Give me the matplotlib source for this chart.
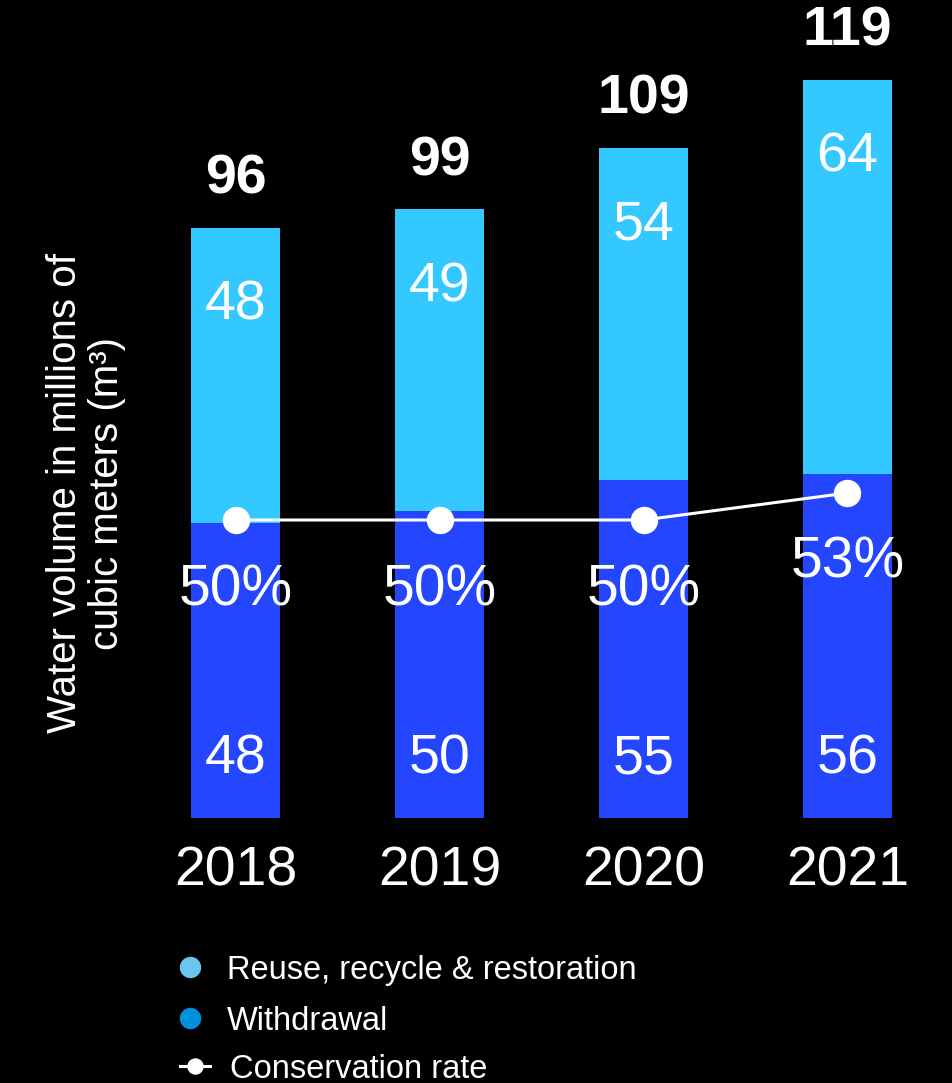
import matplotlib
matplotlib.use("Agg")
import matplotlib.pyplot as plt
from matplotlib.lines import Line2D

plt.rcParams['font.family'] = ['Liberation Sans', 'DejaVu Sans']

years = ["2018", "2019", "2020", "2021"]
withdrawal = [48, 50, 55, 56]
reuse = [48, 49, 54, 64]
totals = [96, 99, 109, 119]
conservation = [50, 50, 50, 53]
legend_labels = ["Reuse, recycle & restoration", "Withdrawal", "Conservation rate"]

C_REUSE = "#33C8FF"
C_WITH = "#2446FF"
C_LEG_REUSE = "#6CC5EC"
C_LEG_WITH = "#0091DC"

W, H = 953, 1083
fig = plt.figure(figsize=(W / 100, H / 100), dpi=100, facecolor="black")

def px(v):
    return v * 0.72  # pixels -> points at dpi 100

base_px = 818
scale = 6.15
ax_h = 812.5
ax = fig.add_axes([133.5 / W, (H - base_px) / H, 816 / W, ax_h / H])
ax.set_facecolor("black")
ax.set_xlim(-0.5, 3.5)
ax.set_ylim(0, ax_h / scale)
ax.axis("off")

x = list(range(len(years)))
bw = 89 / 204
ax.bar(x, withdrawal, width=bw, color=C_WITH, zorder=2)
ax.bar(x, reuse, width=bw, bottom=withdrawal, color=C_REUSE, zorder=2)

# secondary axis for conservation rate
ax2 = ax.twinx()
ax2.axis("off")
s2 = 9.0
low = 50 - 298 / s2
ax2.set_ylim(low, low + ax_h / s2)
ax2.plot(x, conservation, color="white", lw=2.2, marker="o", ms=px(26),
         markerfacecolor="white", markeredgecolor="white", zorder=5)

fs = 40
for i in x:
    top = withdrawal[i] + reuse[i]
    ax.annotate(str(totals[i]), (i, top), xytext=(0, px(34)), textcoords="offset points",
                ha="center", va="baseline", color="white", fontsize=fs, fontweight="bold")
    ax.annotate(str(reuse[i]), (i, top), xytext=(0, -px(92)), textcoords="offset points",
                ha="center", va="baseline", color="white", fontsize=fs)
    ax.annotate(str(withdrawal[i]), (i, 0), xytext=(0, px(45)), textcoords="offset points",
                ha="center", va="baseline", color="white", fontsize=fs)
    ax.annotate(years[i], (i, 0), xytext=(0, -px(67)), textcoords="offset points",
                ha="center", va="baseline", color="white", fontsize=fs)
    ax2.annotate(f"{conservation[i]}%", (i, conservation[i]), xytext=(0, -px(85)),
                 textcoords="offset points", ha="center", va="baseline",
                 color="white", fontsize=41, zorder=6)

# y label
fig.text(86 / W, 1 - 493 / H, "Water volume in millions of\ncubic meters (m³)",
         rotation=90, ha="center", va="center", multialignment="center",
         color="white", fontsize=29, linespacing=1.15)

# legend (manual)
rows_y = [967, 1018, 1066]
lfs = 23.5
fig.add_artist(Line2D([190 / W], [1 - rows_y[0] / H], marker="o", ms=px(20), color=C_LEG_REUSE,
                      linestyle="none", transform=fig.transFigure))
fig.add_artist(Line2D([190 / W], [1 - rows_y[1] / H], marker="o", ms=px(20), color=C_LEG_WITH,
                      linestyle="none", transform=fig.transFigure))
fig.add_artist(Line2D([180 / W, 210 / W], [1 - rows_y[2] / H] * 2, color="white", lw=2.2,
                      transform=fig.transFigure))
fig.add_artist(Line2D([195 / W], [1 - rows_y[2] / H], marker="o", ms=px(15), color="white",
                      linestyle="none", transform=fig.transFigure))
for lbl, ry, lx in zip(legend_labels, rows_y, [227, 227, 230]):
    fig.text(lx / W, 1 - ry / H, lbl, ha="left", va="center_baseline", color="white", fontsize=lfs)

fig.savefig("out.png", dpi=100, facecolor="black")
